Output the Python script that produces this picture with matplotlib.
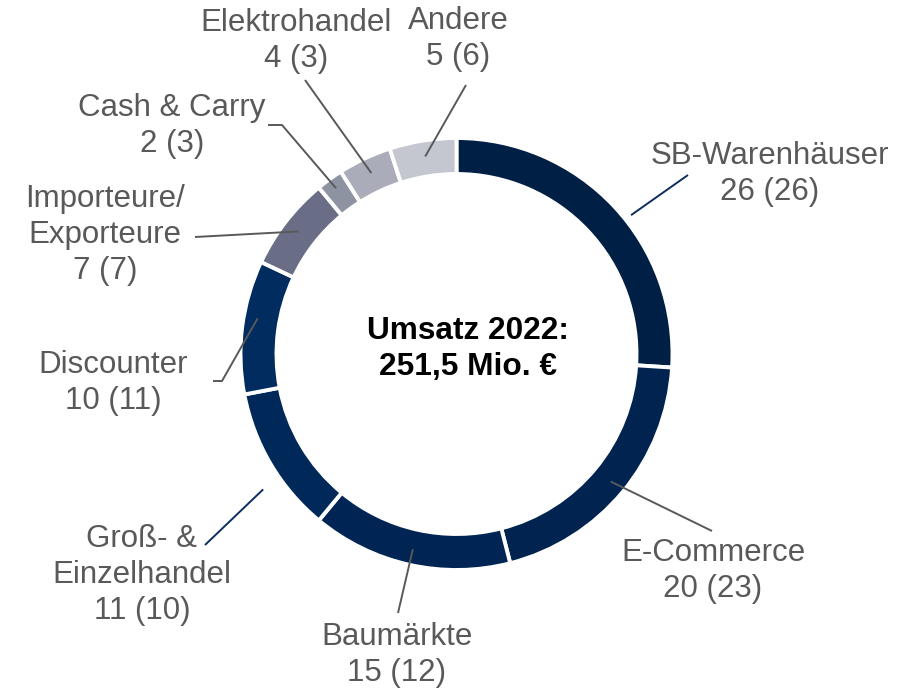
import numpy as np
import matplotlib.pyplot as plt

# shares in percent, 2022 (previous year in brackets)
segments = ["SB-Warenhäuser", "E-Commerce", "Baumärkte", "Groß- &\nEinzelhandel", "Discounter",
            "Importeure/\nExporteure", "Cash & Carry", "Elektrohandel", "Andere"]
share_2022 = [26, 20, 15, 11, 10, 7, 2, 4, 5]
share_2021 = [26, 23, 12, 10, 11, 7, 3, 3, 6]
colors = ["#001f45", "#00234f", "#002554", "#00295a", "#002c60",
          "#696e86", "#8e93a2", "#aaadb9", "#c4c7cf"]
center_text = "Umsatz 2022:\n251,5 Mio. €"

W, H = 915, 692
cx, cy = 456.5, 354      # donut centre in pixels (from top)
R, ring = 216, 36

plt.rcParams['font.family'] = ['Liberation Sans', 'DejaVu Sans']

fig = plt.figure(figsize=(W / 100, H / 100), dpi=100)
ax = fig.add_axes([0, 0, 1, 1])

ax.pie(share_2022, colors=colors, startangle=90, counterclock=False,
       center=(cx, H - cy), radius=R, frame=True,
       wedgeprops=dict(width=ring, edgecolor="white", linewidth=2.8))
ax.set_xlim(0, W)
ax.set_ylim(0, H)
ax.set_aspect("equal")
ax.axis("off")

# centre caption sits a bit right of the ring centre in the original
ax.text(468, H - 349, center_text, ha="center", va="center", fontsize=22.8,
        fontweight="bold", color="black", linespacing=1.25)

# label placement (pixel coords, y from top), leader line end, radius / angle tweak
label_pos = [(770, 174), (713, 571), (397, 655), (142, 575), (113, 383),
             (105, 235), (172, 126), (296, 41), (458, 39)]
line_end = [(688, 175), (712, 531), (398, 613), (205, 545), (213, 381),
            (195, 237), (268, 125), (305, 80), (466, 85)]
elbow = [None, None, None, None, (222, 381), None, (282, 125), None, None]
line_r = [223, 200, 200, 236, 202, 200, 205, 200, 200]
ang_shift = [4.7, 0, 0, -4.4, 3.0, 0, 0, 0, 0]
line_col = ["#0c2d5e", "#595959", "#595959", "#0c2d5e", "#595959",
            "#595959", "#595959", "#595959", "#595959"]

cum = np.cumsum(share_2022) - np.array(share_2022) / 2
for i, name in enumerate(segments):
    ang = np.deg2rad(cum[i] / sum(share_2022) * 360 + ang_shift[i])
    px = cx + np.sin(ang) * line_r[i]
    py = cy - np.cos(ang) * line_r[i]
    xs, ys = [px], [py]
    if elbow[i] is not None:
        xs.append(elbow[i][0])
        ys.append(elbow[i][1])
    xs.append(line_end[i][0])
    ys.append(line_end[i][1])
    ax.plot(xs, [H - y for y in ys], color=line_col[i], lw=1.4, solid_capstyle="butt")
    lx, ly = label_pos[i]
    ax.text(lx, H - ly, f"{name}\n{share_2022[i]} ({share_2021[i]})", ha="center", va="center",
            fontsize=22.5, color="#595959", linespacing=1.24)

fig.savefig("out.png", dpi=100)
